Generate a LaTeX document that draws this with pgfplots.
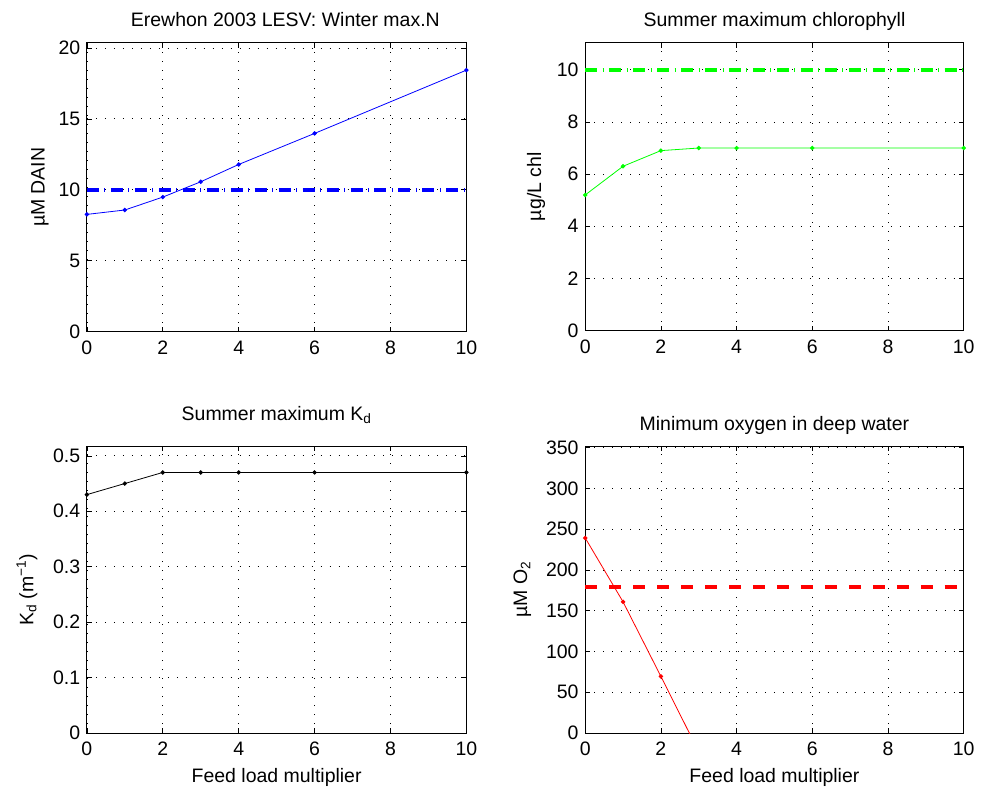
\documentclass[border=0pt]{standalone}
\usepackage{pgfplots}
\pgfplotsset{compat=1.18}
\usepackage{fontspec}
\setmainfont{Liberation Sans}
\begin{document}
\fontsize{19.5bp}{23bp}\selectfont
\begin{tikzpicture}
\pgfplotsset{
  mat/.style={
    scale only axis,
    xmin=0, xmax=10,
    xtick={0,2,4,6,8,10},
    tick align=inside,
    tick pos=both,
    major tick length=5bp,
    axis line style={line width=0.9bp},
    every tick/.style={black,line width=0.6bp},
    grid=major,
    grid style={black,line width=0.7bp,dash pattern=on 0.8bp off 8.2bp},
    /pgf/number format/assume math mode=true,
    tick label style={font=\fontsize{19.5bp}{23bp}\selectfont},
    xticklabel style={yshift=-2.5bp},
    label style={font=\fontsize{19.5bp}{23bp}\selectfont},
    title style={font=\fontsize{19.5bp}{23bp}\selectfont},
    xlabel style={at={(axis description cs:0.5,0)},anchor=base,yshift=-50bp},
    clip=true,
  },
  dat/.style={line width=0.8bp, mark=*, mark size=1.8bp},
  thr/.style={line width=4bp},
}
\path (0,0) rectangle (981bp,792bp);
% top-left
\begin{axis}[mat, at={(87bp,460bp)}, anchor=south west, width=380bp, height=289bp,
  ymin=0, ymax=20.35, ytick={0,5,10,15,20},
  title={Erewhon 2003 LESV: Winter max.N},
  title style={at={(axis description cs:0.523,1)},anchor=base,yshift=10bp},
  ylabel={µM DAIN},
  ylabel style={at={(axis description cs:-0.124,0.5)},anchor=center}]
\addplot[blue, dat] coordinates {(0,8.26) (1,8.57) (2,9.48) (3,10.56) (4,11.78) (6,13.97) (10,18.43)};
\addplot[blue, thr, dash pattern=on 12bp off 5.5bp on 1bp off 5.5bp] coordinates {(0,10) (10,10)};
\end{axis}
% top-right
\begin{axis}[mat, at={(586bp,461bp)}, anchor=south west, width=379bp, height=288bp,
  ymin=0, ymax=11.03, ytick={0,2,4,6,8,10},
  title={Summer maximum chlorophyll},
  title style={at={(axis description cs:0.5,1)},anchor=base,yshift=10bp},
  ylabel={µg/L chl},
  ylabel style={at={(axis description cs:-0.13,0.5)},anchor=center}]
\addplot[green, dat] coordinates {(0,5.2) (1,6.3) (2,6.9) (3,7.0) (4,7.0) (6,7.0) (10,7.0)};
\addplot[green, thr, dash pattern=on 12bp off 5.5bp on 1bp off 5.5bp] coordinates {(0,10) (10,10)};
\end{axis}
% bottom-left
\begin{axis}[mat, at={(87bp,58bp)}, anchor=south west, width=380bp, height=287bp,
  ymin=0, ymax=0.517, ytick={0,0.1,0.2,0.3,0.4,0.5},
  yticklabels={0,0.1,0.2,0.3,0.4,0.5},
  title={Summer maximum K\textsubscript{d}},
  title style={at={(axis description cs:0.5,1)},anchor=base,yshift=20bp},
  ylabel={K\textsubscript{d} (m\textsuperscript{−1})},
  ylabel style={at={(axis description cs:-0.158,0.5)},anchor=center},
  xlabel={Feed load multiplier}]
\addplot[black, dat] coordinates {(0,0.43) (1,0.45) (2,0.47) (3,0.47) (4,0.47) (6,0.47) (10,0.47)};
\end{axis}
% bottom-right
\begin{axis}[mat, at={(586bp,58bp)}, anchor=south west, width=379bp, height=287bp,
  ymin=0, ymax=351.6, ytick={0,50,100,150,200,250,300,350},
  title={Minimum oxygen in deep water},
  title style={at={(axis description cs:0.5,1)},anchor=base,yshift=10bp},
  ylabel={µM O\textsubscript{2}},
  ylabel style={at={(axis description cs:-0.166,0.5)},anchor=center},
  xlabel={Feed load multiplier}]
\addplot[red, dat] coordinates {(0,239.3) (1,160.9) (2,69.4) (3,-23)};
\addplot[red, thr, dash pattern=on 12bp off 12bp] coordinates {(0,178.5) (10,178.5)};
\end{axis}
\end{tikzpicture}
\end{document}
